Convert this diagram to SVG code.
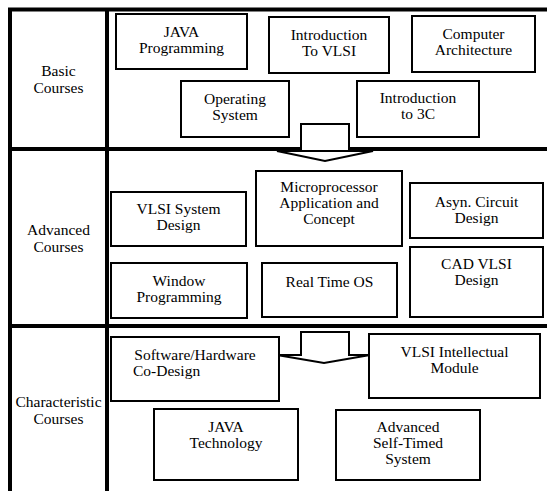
<svg xmlns="http://www.w3.org/2000/svg" width="547" height="491" viewBox="0 0 547 491">
<style>
.frame{stroke:#000;stroke-width:4;fill:none}
.box{fill:#fff;stroke:#000;stroke-width:2}
.arrow{fill:#fff;stroke:#000;stroke-width:2;stroke-linejoin:miter}
.t{font-family:"Liberation Serif","DejaVu Serif","Times New Roman",serif;font-size:15.5px;fill:#000;text-anchor:middle}
.left{text-anchor:start}
</style>
<rect width="547" height="491" fill="#fff"/>
<g id="frame">
<line class="frame" x1="8" y1="9.5" x2="547" y2="9.5"/>
<line class="frame" x1="10" y1="8" x2="10" y2="491"/>
<line class="frame" x1="107" y1="8" x2="107" y2="491"/>
<line class="frame" x1="8" y1="149" x2="547" y2="149"/>
<line class="frame" x1="8" y1="326" x2="547" y2="326"/>
</g>
<g id="section-labels" class="t" font-family="Liberation Serif, serif">
<g id="label-basic"><text class="t" x="58.5" y="76">Basic</text><text class="t" x="58.5" y="93">Courses</text></g>
<g id="label-advanced"><text class="t" x="58.5" y="235">Advanced</text><text class="t" x="58.5" y="252">Courses</text></g>
<g id="label-characteristic"><text class="t" x="58.5" y="407">Characteristic</text><text class="t" x="58.5" y="424">Courses</text></g>
</g>
<g id="connectors">
<path class="arrow" d="M301,150 L301,124 L349,124 L349,150"/>
<polygon class="arrow" points="277,151 373,151 325,161"/>
<polygon class="arrow" points="301,332 349,332 349,355 370,355 324,363 277,355 301,355"/>
</g>
<g id="node-java-programming"><rect class="box" x="116" y="14" width="131" height="55"/><text class="t" x="181.5" y="37">JAVA</text><text class="t" x="181.5" y="53">Programming</text></g>
<g id="node-intro-vlsi"><rect class="box" x="269" y="17" width="120" height="56"/><text class="t" x="329" y="40">Introduction</text><text class="t" x="329" y="56">To VLSI</text></g>
<g id="node-computer-architecture"><rect class="box" x="412" y="16" width="123" height="56"/><text class="t" x="473.5" y="39">Computer</text><text class="t" x="473.5" y="55">Architecture</text></g>
<g id="node-operating-system"><rect class="box" x="181" y="81" width="108" height="56"/><text class="t" x="235" y="104">Operating</text><text class="t" x="235" y="120">System</text></g>
<g id="node-intro-3c"><rect class="box" x="357" y="81" width="122" height="56"/><text class="t" x="418" y="103">Introduction</text><text class="t" x="418" y="119">to 3C</text></g>
<g id="node-vlsi-system-design"><rect class="box" x="111" y="192" width="135" height="54"/><text class="t" x="178.5" y="214">VLSI System</text><text class="t" x="178.5" y="230">Design</text></g>
<g id="node-microprocessor"><rect class="box" x="256" y="171" width="146" height="75"/><text class="t" x="329" y="192">Microprocessor</text><text class="t" x="329" y="208">Application and</text><text class="t" x="329" y="224">Concept</text></g>
<g id="node-asyn-circuit"><rect class="box" x="410" y="183" width="133" height="55"/><text class="t" x="476.5" y="207">Asyn. Circuit</text><text class="t" x="476.5" y="223">Design</text></g>
<g id="node-window-programming"><rect class="box" x="111" y="263" width="136" height="55"/><text class="t" x="179" y="286">Window</text><text class="t" x="179" y="302">Programming</text></g>
<g id="node-real-time-os"><rect class="box" x="262" y="263" width="135" height="54"/><text class="t" x="329.5" y="287">Real Time OS</text></g>
<g id="node-cad-vlsi"><rect class="box" x="410" y="247" width="133" height="70"/><text class="t" x="476.5" y="269">CAD VLSI</text><text class="t" x="476.5" y="285">Design</text></g>
<g id="node-sw-hw-codesign"><rect class="box" x="111" y="337" width="168" height="64"/><text class="t" x="195" y="360">Software/Hardware</text><text class="t left" x="133" y="376">Co-Design</text></g>
<g id="node-vlsi-intellectual"><rect class="box" x="369" y="334" width="171" height="64"/><text class="t" x="454.5" y="357">VLSI Intellectual</text><text class="t" x="454.5" y="373">Module</text></g>
<g id="node-java-technology"><rect class="box" x="154" y="409" width="144" height="71"/><text class="t" x="226" y="432">JAVA</text><text class="t" x="226" y="448">Technology</text></g>
<g id="node-advanced-self-timed"><rect class="box" x="336" y="410" width="144" height="70"/><text class="t" x="408" y="432">Advanced</text><text class="t" x="408" y="448">Self-Timed</text><text class="t" x="408" y="464">System</text></g>
</svg>
